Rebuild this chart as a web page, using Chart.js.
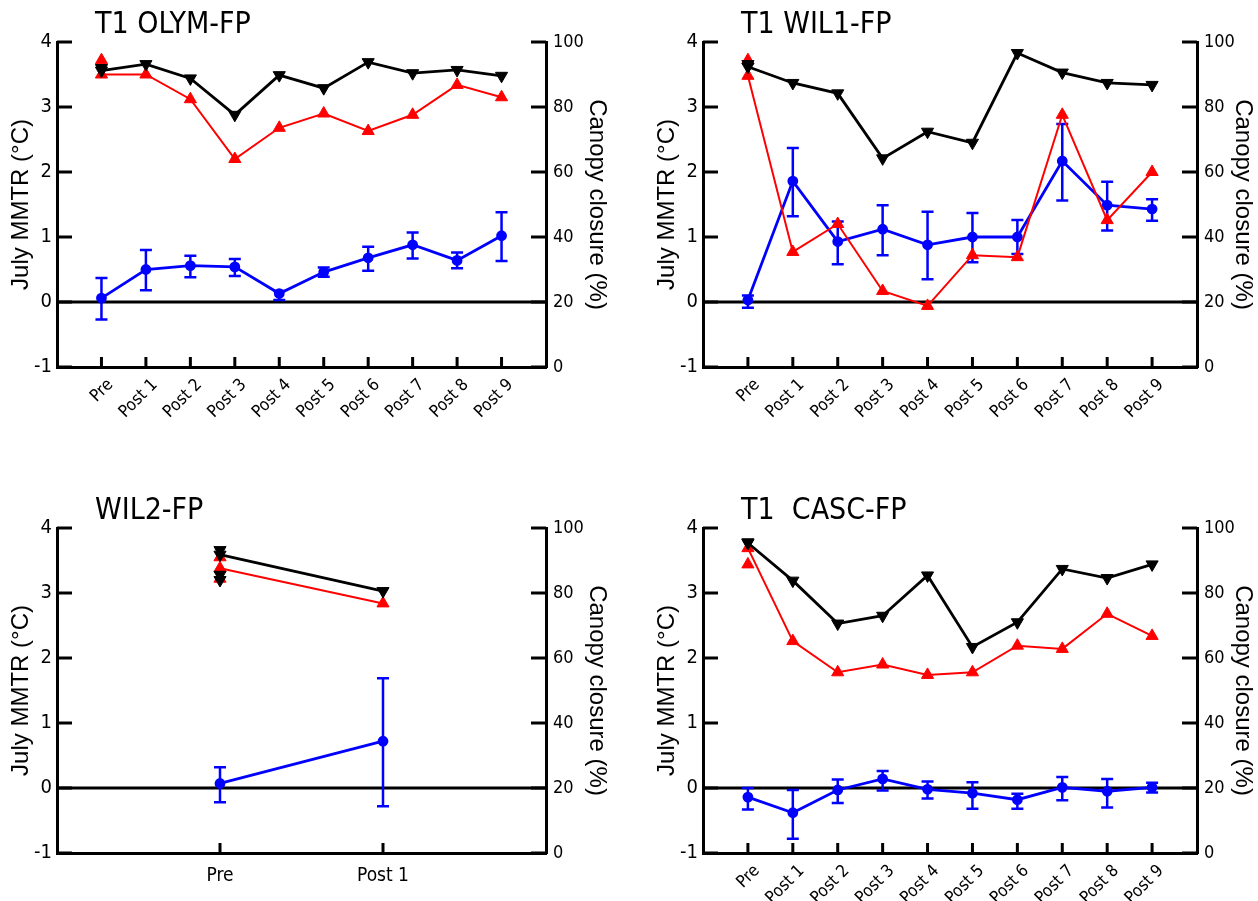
<!DOCTYPE html>
<html>
<head>
<meta charset="utf-8">
<script src="https://cdn.jsdelivr.net/npm/chart.js@4.4.1/dist/chart.umd.min.js"></script>
<style>
    html, body { margin: 0; padding: 0; background: #fff; }
    #wrap { position: relative; width: 1258px; height: 901px; overflow: hidden; }
    .panel { position: absolute; width: 629px; }
</style>
</head>
<body>
<div id="wrap">
    <div class="panel" style="left:0;top:0"><canvas id="olym" width="629" height="450"></canvas></div>
    <div class="panel" style="left:629px;top:0"><canvas id="wil1" width="629" height="450"></canvas></div>
    <div class="panel" style="left:0;top:450px"><canvas id="wil2" width="629" height="451"></canvas></div>
    <div class="panel" style="left:629px;top:450px"><canvas id="casc" width="629" height="451"></canvas></div>
</div>
<script>
// ── Categories and ticks ────────────────────────────────────────────
const periods = ['Pre', 'Post 1', 'Post 2', 'Post 3', 'Post 4', 'Post 5', 'Post 6', 'Post 7', 'Post 8', 'Post 9'];
const wil2Periods = ['Pre', 'Post 1'];
const mmtrTicks = [-1, 0, 1, 2, 3, 4];
const canopyTicks = [0, 20, 40, 60, 80, 100];

// ── T1 OLYM-FP ──────────────────────────────────────────────────────
const olymMmtr   = [0.06, 0.50, 0.56, 0.54, 0.13, 0.46, 0.68, 0.88, 0.64, 1.02];
const olymMmtrLo = [-0.27, 0.18, 0.38, 0.40, 0.03, 0.39, 0.48, 0.67, 0.52, 0.63];
const olymMmtrHi = [0.37, 0.80, 0.71, 0.66, 0.17, 0.53, 0.85, 1.07, 0.76, 1.38];
const olymCanopyBlack = [91.2, 93.2, 88.8, 77.6, 89.8, 85.8, 93.8, 90.4, 91.4, 89.6];
const olymCanopyRed   = [90, 90, 82.4, 64, 73.6, 78, 72.6, 77.6, 86.8, 83];
const olymPreBlack = [92];
const olymPreRed   = [94.4];

// ── T1 WIL1-FP ──────────────────────────────────────────────────────
const wil1Mmtr   = [0.03, 1.86, 0.93, 1.12, 0.88, 1.00, 1.00, 2.17, 1.49, 1.43];
const wil1MmtrLo = [-0.09, 1.32, 0.58, 0.72, 0.35, 0.61, 0.74, 1.56, 1.10, 1.25];
const wil1MmtrHi = [0.10, 2.37, 1.24, 1.49, 1.39, 1.37, 1.26, 2.74, 1.85, 1.58];
const wil1CanopyBlack = [92.4, 87.4, 84.2, 64.2, 72.4, 69, 96.6, 90.6, 87.4, 86.8];
const wil1CanopyRed   = [89.6, 35.4, 44, 23.4, 18.8, 34.4, 33.8, 77.6, 45.2, 60];
const wil1PreBlack = [93.2];
const wil1PreRed   = [94.4];

// ── WIL2-FP ─────────────────────────────────────────────────────────
const wil2Mmtr   = [0.07, 0.72];
const wil2MmtrLo = [-0.22, -0.28];
const wil2MmtrHi = [0.32, 1.69];
const wil2CanopyBlack = [91.8, 80.6];
const wil2CanopyRed   = [87.6, 76.8];
const wil2PreBlack = [93.2, 85.6, 84];
const wil2PreRed   = [91, 84.4];

// ── T1 CASC-FP ──────────────────────────────────────────────────────
const cascMmtr   = [-0.14, -0.38, -0.03, 0.14, -0.02, -0.08, -0.18, 0.01, -0.05, 0.01];
const cascMmtrLo = [-0.33, -0.78, -0.23, -0.04, -0.16, -0.32, -0.32, -0.19, -0.30, -0.07];
const cascMmtrHi = [0.00, -0.03, 0.13, 0.26, 0.10, 0.09, -0.09, 0.17, 0.14, 0.08];
const cascCanopyBlack = [95.4, 83.8, 70.6, 73, 85.4, 63.4, 71, 87.4, 84.6, 88.8];
const cascCanopyRed   = [93.8, 65.2, 55.6, 58, 54.8, 55.6, 63.8, 62.8, 73.6, 66.8];
const cascPreBlack = [95.6];
const cascPreRed   = [88.8];

const NARROW = "'Liberation Sans Narrow', 'DejaVu Sans Condensed', 'Liberation Sans', sans-serif";
const REGULAR = "'Liberation Sans', Arial, sans-serif";

// ── Plugins ─────────────────────────────────────────────────────────
const panelTitle = {
    id: 'panelTitle',
    afterDraw(chart, args, opts) {
        const { ctx, chartArea } = chart;
        ctx.save();
        ctx.font = '30px ' + NARROW;
        ctx.fillStyle = '#000';
        ctx.textBaseline = 'alphabetic';
        ctx.fillText(opts.text, chartArea.left + 38, chartArea.top - 9);
        ctx.restore();
    }
};

const errorBars = {
    id: 'errorBars',
    beforeDatasetsDraw(chart, args, opts) {
        const { ctx, chartArea: a, scales: { x, y } } = chart;
        ctx.save();
        // zero line
        ctx.strokeStyle = '#000';
        ctx.lineWidth = 3;
        ctx.beginPath();
        ctx.moveTo(a.left, y.getPixelForValue(0));
        ctx.lineTo(a.right, y.getPixelForValue(0));
        ctx.stroke();
        // MMTR error bars
        ctx.strokeStyle = '#0000ff';
        ctx.lineWidth = 2.5;
        ctx.beginPath();
        opts.lo.forEach((lo, i) => {
            const px = x.getPixelForValue(i);
            const pLo = y.getPixelForValue(lo);
            const pHi = y.getPixelForValue(opts.hi[i]);
            ctx.moveTo(px, pLo); ctx.lineTo(px, pHi);
            ctx.moveTo(px - 6, pLo); ctx.lineTo(px + 6, pLo);
            ctx.moveTo(px - 6, pHi); ctx.lineTo(px + 6, pHi);
        });
        ctx.stroke();
        ctx.restore();
    }
};

const inwardTicks = {
    id: 'inwardTicks',
    afterDraw(chart) {
        const { ctx, chartArea: a, scales } = chart;
        ctx.save();
        ctx.strokeStyle = '#000';
        ctx.lineWidth = 3;
        ctx.beginPath();
        scales.y.ticks.forEach(t => {
            const p = scales.y.getPixelForValue(t.value);
            ctx.moveTo(a.left, p); ctx.lineTo(a.left + 15, p);
        });
        scales.y1.ticks.forEach(t => {
            const p = scales.y1.getPixelForValue(t.value);
            ctx.moveTo(a.right, p); ctx.lineTo(a.right - 15, p);
        });
        scales.x.ticks.forEach(t => {
            const p = scales.x.getPixelForValue(t.value);
            ctx.moveTo(p, a.bottom); ctx.lineTo(p, a.bottom - 10);
        });
        ctx.stroke();
        ctx.restore();
    }
};

// ── Panel builder ───────────────────────────────────────────────────
function makePanel(id, p) {
    const cats = p.cats;
    const H = p.height || 450;
    const pts = arr => arr.map((v, i) => ({ x: i, y: v }));
    const pre = arr => arr.map(v => ({ x: 0, y: v }));
    const red = { borderColor: '#ff0000', backgroundColor: '#ff0000', pointStyle: 'triangle', pointRadius: 7, pointBorderWidth: 1, yAxisID: 'y1', order: 2 };
    const black = { borderColor: '#000', backgroundColor: '#000', pointStyle: 'triangle', pointRotation: 180, pointRadius: 7, pointBorderWidth: 1, yAxisID: 'y1', order: 1 };

    new Chart(document.getElementById(id), {
        type: 'line',
        data: {
            datasets: [
                { ...black, data: pts(p.black), borderWidth: 2.8 },
                { ...black, data: pre(p.preBlack), showLine: false },
                { ...red, data: pts(p.red), borderWidth: 2 },
                { ...red, data: pre(p.preRed), showLine: false },
                {
                    data: pts(p.mmtr), yAxisID: 'y', order: 3,
                    borderColor: '#0000ff', backgroundColor: '#0000ff',
                    borderWidth: 2.8, pointRadius: 4
                }
            ]
        },
        options: {
            responsive: false,
            animation: false,
            layout: { padding: { left: 0, top: p.top, right: 629 - p.right - p.y1Width, bottom: H - p.bottom - p.xHeight } },
            plugins: {
                legend: { display: false },
                tooltip: { enabled: false },
                panelTitle: { text: p.title },
                errorBars: { lo: p.lo, hi: p.hi }
            },
            scales: {
                x: {
                    type: 'linear',
                    min: -1, max: cats.length,
                    afterBuildTicks: s => { s.ticks = cats.map((c, i) => ({ value: i })); },
                    afterFit: s => { s.height = p.xHeight; },
                    grid: { display: false, drawTicks: false },
                    border: { color: '#000', width: 3 },
                    ticks: {
                        autoSkip: false,
                        minRotation: p.rot, maxRotation: p.rot,
                        padding: p.rot ? 8 : 12,
                        labelOffset: p.rot ? 9 : 0,
                        color: '#000',
                        font: { family: NARROW, size: p.rot ? 17 : 19 },
                        callback: v => cats[v]
                    }
                },
                y: {
                    position: 'left',
                    min: -1, max: 4,
                    afterBuildTicks: s => { s.ticks = mmtrTicks.map(v => ({ value: v })); },
                    afterFit: s => { s.width = p.left; },
                    grid: { display: false, drawTicks: false },
                    border: { color: '#000', width: 3 },
                    ticks: { color: '#000', padding: 5, font: { family: NARROW, size: 20 } },
                    title: {
                        display: true, text: 'July MMTR (°C)', color: '#000',
                        font: { family: REGULAR, size: 24 }, padding: { top: p.yTitlePad, bottom: 0 }
                    }
                },
                y1: {
                    position: 'right',
                    min: 0, max: 100,
                    afterBuildTicks: s => { s.ticks = canopyTicks.map(v => ({ value: v })); },
                    afterFit: s => { s.width = p.y1Width; },
                    grid: { display: false, drawTicks: false },
                    border: { color: '#000', width: 3 },
                    ticks: { color: '#000', padding: 7, font: { family: NARROW, size: 18 } },
                    title: {
                        display: true, text: 'Canopy closure (%)', color: '#000',
                        font: { family: REGULAR, size: 24 }, padding: { top: p.y1TitlePad, bottom: 0 }
                    }
                }
            }
        },
        plugins: [errorBars, inwardTicks, panelTitle]
    });
}

makePanel('olym', {
    title: 'T1 OLYM-FP', cats: periods, rot: 45,
    mmtr: olymMmtr, lo: olymMmtrLo, hi: olymMmtrHi,
    black: olymCanopyBlack, red: olymCanopyRed, preBlack: olymPreBlack, preRed: olymPreRed,
    left: 57, right: 546, top: 42, bottom: 367, xHeight: 70, y1Width: 66, yTitlePad: 7, y1TitlePad: 1
});
makePanel('wil1', {
    title: 'T1 WIL1-FP', cats: periods, rot: 45,
    mmtr: wil1Mmtr, lo: wil1MmtrLo, hi: wil1MmtrHi,
    black: wil1CanopyBlack, red: wil1CanopyRed, preBlack: wil1PreBlack, preRed: wil1PreRed,
    left: 74, right: 568, top: 42, bottom: 367, xHeight: 70, y1Width: 61, yTitlePad: 24, y1TitlePad: 1
});
makePanel('wil2', {
    title: 'WIL2-FP', cats: wil2Periods, rot: 0, height: 451,
    mmtr: wil2Mmtr, lo: wil2MmtrLo, hi: wil2MmtrHi,
    black: wil2CanopyBlack, red: wil2CanopyRed, preBlack: wil2PreBlack, preRed: wil2PreRed,
    left: 57, right: 546, top: 78, bottom: 403, xHeight: 48, y1Width: 66, yTitlePad: 7, y1TitlePad: 1
});
makePanel('casc', {
    title: 'T1  CASC-FP', cats: periods, rot: 45, height: 451,
    mmtr: cascMmtr, lo: cascMmtrLo, hi: cascMmtrHi,
    black: cascCanopyBlack, red: cascCanopyRed, preBlack: cascPreBlack, preRed: cascPreRed,
    left: 74, right: 568, top: 78, bottom: 403, xHeight: 48, y1Width: 61, yTitlePad: 24, y1TitlePad: 1
});
</script>
</body>
</html>
